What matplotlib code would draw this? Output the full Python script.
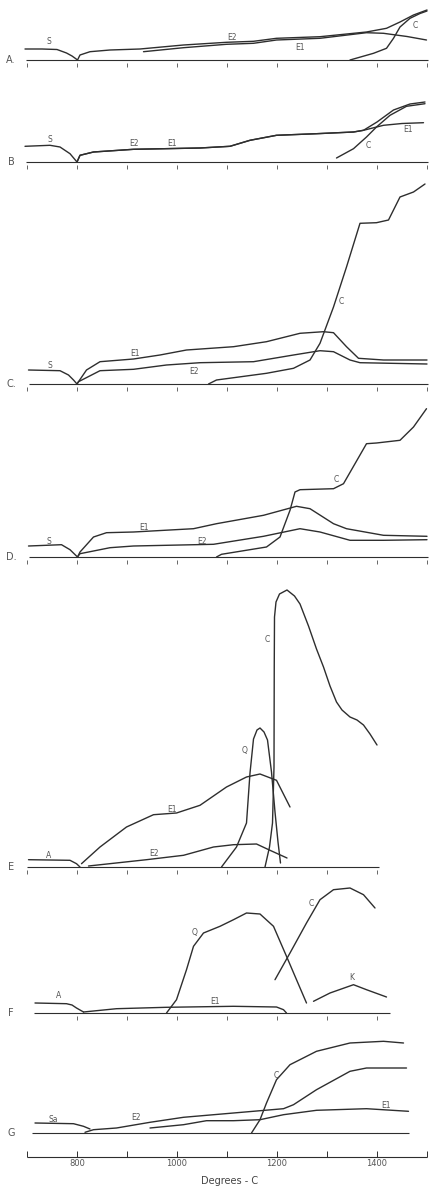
import matplotlib
matplotlib.use('Agg')
import matplotlib.pyplot as plt

# temperature scale (deg C) and panel baselines
TICKS_FULL = [700, 800, 900, 1000, 1100, 1200, 1300, 1400, 1500]
TICKS_E = [700, 800, 900, 1000, 1100, 1200, 1300, 1400]
TICKS_F = [800, 900, 1000, 1100, 1200, 1300, 1400]
SCALE_LABELS = [800, 1000, 1200, 1400]

# Panel A
A_S_T = [696, 730, 760, 779, 790, 797, 801]
A_S_Y = [11, 11, 10.5, 7, 4, 1.5, 0]
A_E2_T = [801, 806, 826, 866, 926, 1013, 1099, 1153, 1199, 1286, 1379, 1419, 1446, 1473, 1500]
A_E2_Y = [0, 5, 8.3, 10, 11, 15, 17.7, 18.7, 21.7, 23.3, 28, 31.7, 38, 45, 50]
A_E1_T = [933, 1013, 1099, 1153, 1199, 1286, 1379, 1413, 1460, 1499]
A_E1_Y = [8.3, 12.3, 15.7, 16.7, 20, 21.7, 27.3, 26.7, 23.5, 20]
A_C_T = [1346, 1393, 1419, 1433, 1446, 1466, 1486, 1500]
A_C_Y = [0, 6.7, 11.7, 21.7, 33, 41.7, 46.5, 49]

# Panel B
B_S_T = [696, 746, 766, 786, 800]
B_S_Y = [15.7, 16.7, 15, 8.3, 0]
B_E2_T = [800, 806, 833, 913, 1046, 1106, 1146, 1199, 1279, 1353, 1373, 1400, 1433, 1466, 1496]
B_E2_Y = [0, 6.7, 10, 12.7, 14, 15.7, 21.7, 26.7, 28.3, 30, 31.7, 40, 52, 58, 60]
B_E1_T = [800, 806, 833, 913, 1046, 1106, 1146, 1199, 1279, 1353, 1373, 1413, 1450, 1493]
B_E1_Y = [0, 6.7, 10, 12.7, 14, 15.7, 21.7, 26.7, 28.3, 30, 31.7, 36.7, 38.5, 39.3]
B_C_T = [1319, 1353, 1379, 1399, 1426, 1459, 1496]
B_C_Y = [4, 13.3, 25, 35, 46.7, 55.7, 58.3]

# Panel C
C_S_T = [703, 766, 783, 793, 800]
C_S_Y = [14, 13.3, 9, 4, 0]
C_E1_T = [800, 803, 819, 846, 913, 966, 1019, 1113, 1179, 1246, 1293, 1313, 1339, 1363, 1413, 1500]
C_E1_Y = [0, 2.3, 14, 22.3, 25, 29, 34, 37.3, 42.3, 50.7, 52.3, 51.3, 37.3, 25.7, 24, 24]
C_E2_T = [800, 803, 846, 913, 979, 1046, 1153, 1233, 1286, 1313, 1346, 1366, 1500]
C_E2_Y = [0, 2.3, 13.3, 14.7, 19, 21.3, 22.3, 29, 33.3, 32.3, 24, 21.3, 20]
C_C_T = [1063, 1079, 1179, 1233, 1266, 1286, 1313, 1339, 1366, 1399, 1423, 1436, 1446, 1473, 1496]
C_C_Y = [0, 4, 10.7, 15.7, 24, 40.7, 77, 117, 160.7, 161.3, 164, 177, 187, 192, 200]

# Panel D
D_S_T = [703, 769, 786, 801]
D_S_Y = [11, 12.3, 7.3, 0]
D_E1_T = [801, 806, 833, 859, 913, 1033, 1079, 1173, 1239, 1266, 1313, 1339, 1413, 1500]
D_E1_Y = [0, 5, 20, 24.3, 25, 28.3, 33.3, 41.7, 50.7, 48.3, 33.3, 28.3, 21.7, 20.7]
D_E2_T = [801, 806, 866, 913, 1073, 1173, 1246, 1286, 1346, 1413, 1500]
D_E2_Y = [0, 3.3, 9.3, 11, 12.7, 20.7, 28.3, 25, 16.7, 16.7, 17.3]
D_C_T = [1079, 1089, 1179, 1206, 1226, 1236, 1246, 1313, 1333, 1379, 1399, 1446, 1473, 1499]
D_C_Y = [0, 2.7, 10, 20, 46.7, 65, 67.3, 68.3, 73.3, 113.3, 114, 116.7, 130, 148.3]

# Panel E
E_A_T = [703, 786, 799, 806]
E_A_Y = [7.3, 6.7, 3.3, 0]
E_E1_T = [809, 846, 899, 953, 999, 1046, 1099, 1139, 1166, 1199, 1226]
E_E1_Y = [3.3, 20, 40, 52.3, 54, 61.7, 80, 90, 93, 86.7, 60]
E_E2_T = [823, 939, 1013, 1073, 1113, 1159, 1186, 1220]
E_E2_Y = [1, 7.3, 11.7, 20, 22.3, 23, 16.7, 9]
E_Q_T = [1089, 1119, 1139, 1146, 1153, 1160, 1166, 1174, 1181, 1189, 1196, 1202, 1207]
E_Q_Y = [0, 20, 44, 94, 128, 137, 139, 135, 127, 95, 55, 25, 4]
E_C_T = [1176, 1185, 1191, 1194, 1194.5, 1195, 1198, 1205, 1220, 1235, 1246, 1263, 1279,
         1293, 1306, 1319, 1330, 1346, 1360, 1373, 1386, 1400]
E_C_Y = [0, 20, 44, 100, 200, 250, 265, 273, 277, 271, 263, 241, 218,
         200, 181, 165, 157, 150, 147, 142, 133, 122]

# Panel F
F_A_T = [716, 779, 790, 799, 813]
F_A_Y = [10, 9.3, 8, 5, 1]
F_E1_T = [813, 879, 979, 1113, 1199, 1213, 1219]
F_E1_Y = [1, 4.3, 5.7, 6.7, 6, 3.3, 0]
F_Q_T = [979, 999, 1019, 1033, 1053, 1086, 1113, 1139, 1166, 1193, 1219, 1239, 1259]
F_Q_Y = [0, 13.3, 43.3, 66.7, 80, 86.7, 93.3, 100, 99, 86.7, 56.7, 33.3, 10]
F_C_T = [1196, 1226, 1259, 1286, 1313, 1346, 1373, 1396]
F_C_Y = [33.3, 60, 90, 113.3, 123.3, 125, 118.3, 105]
F_K_T = [1273, 1306, 1353, 1379, 1419]
F_K_Y = [11.7, 20, 28.3, 23.3, 16]

# Panel G
G_SA_T = [716, 793, 813, 826]
G_SA_Y = [10, 9.3, 6.7, 4]
G_E2_T = [816, 833, 879, 946, 1013, 1113, 1213, 1233, 1279, 1346, 1379, 1459]
G_E2_Y = [0.7, 3.3, 5, 10.7, 15.7, 20, 24.3, 28.3, 43.3, 61.7, 65, 65]
G_E1_T = [946, 1013, 1059, 1113, 1166, 1213, 1279, 1379, 1463]
G_E1_Y = [5, 8.3, 12.3, 12.3, 13.3, 18.3, 22.7, 24.3, 21.7]
G_C_T = [1149, 1166, 1179, 1199, 1226, 1279, 1346, 1413, 1453]
G_C_Y = [0, 13.3, 30, 53.3, 68.3, 81.7, 90, 91.7, 90]

W, H = 430, 1189
LINE = '#2e2e2e'
TXT = '#555555'

fig = plt.figure(figsize=(W / 100, H / 100), dpi=100)
fig.patch.set_facecolor('white')


# one strip per panel, 1 y-unit = 1 pixel, baseline at y = 0
def make_panel(base_row, height, base_from, base_to, ticks, letter, pad=14):
    ax = fig.add_axes([0, (H - (base_row + pad)) / H, 1, (height + pad) / H])
    ax.set_xlim(646, 1506)
    ax.set_ylim(-pad, height)
    ax.axis('off')
    ax.hlines(0, base_from, base_to, color=LINE, lw=0.8)
    if ticks:
        ax.vlines(ticks, -7, -2.5, color='#666666', lw=0.7)
    ax.text(668, 0, letter, fontsize=7, color=TXT, ha='center', va='center')
    return ax


def curve(ax, t, y):
    ax.plot(t, y, color=LINE, lw=1.0, solid_capstyle='round', solid_joinstyle='round')


def label(ax, t, y, s):
    ax.text(t, y, s, fontsize=5.5, color=TXT, ha='center', va='center')


# A
ax = make_panel(60, 65, 697, 1502, TICKS_FULL, 'A.')
curve(ax, A_S_T, A_S_Y)
curve(ax, A_E2_T, A_E2_Y)
curve(ax, A_E1_T, A_E1_Y)
curve(ax, A_C_T, A_C_Y)
label(ax, 743, 18, 'S')
label(ax, 1109, 22, 'E2')
label(ax, 1246, 13, 'E1')
label(ax, 1476, 35, 'C')

# B
ax = make_panel(162, 70, 697, 1502, TICKS_FULL, 'B')
curve(ax, B_S_T, B_S_Y)
curve(ax, B_E2_T, B_E2_Y)
curve(ax, B_E1_T, B_E1_Y)
curve(ax, B_C_T, B_C_Y)
label(ax, 746, 22, 'S')
label(ax, 913, 18, 'E2')
label(ax, 989, 18, 'E1')
label(ax, 1383, 16, 'C')
label(ax, 1463, 32, 'E1')

# C
ax = make_panel(384, 210, 703, 1502, TICKS_FULL, 'C.')
curve(ax, C_S_T, C_S_Y)
curve(ax, C_E1_T, C_E1_Y)
curve(ax, C_E2_T, C_E2_Y)
curve(ax, C_C_T, C_C_Y)
label(ax, 746, 19, 'S')
label(ax, 916, 31, 'E1')
label(ax, 1033, 12, 'E2')
label(ax, 1329, 82, 'C')

# D
ax = make_panel(557, 160, 703, 1502, TICKS_FULL, 'D.')
curve(ax, D_S_T, D_S_Y)
curve(ax, D_E1_T, D_E1_Y)
curve(ax, D_E2_T, D_E2_Y)
curve(ax, D_C_T, D_C_Y)
label(ax, 743, 15, 'S')
label(ax, 933, 30, 'E1')
label(ax, 1049, 15, 'E2')
label(ax, 1319, 77, 'C')

# E
ax = make_panel(867, 285, 699, 1403, TICKS_E, 'E')
curve(ax, E_A_T, E_A_Y)
curve(ax, E_E1_T, E_E1_Y)
curve(ax, E_E2_T, E_E2_Y)
curve(ax, E_Q_T, E_Q_Y)
curve(ax, E_C_T, E_C_Y)
label(ax, 743, 12, 'A')
label(ax, 989, 58, 'E1')
label(ax, 953, 13, 'E2')
label(ax, 1136, 117, 'Q')
label(ax, 1180, 227, 'C')

# F
ax = make_panel(1013, 130, 713, 1426, TICKS_F, 'F')
curve(ax, F_A_T, F_A_Y)
curve(ax, F_E1_T, F_E1_Y)
curve(ax, F_Q_T, F_Q_Y)
curve(ax, F_C_T, F_C_Y)
curve(ax, F_K_T, F_K_Y)
label(ax, 763, 17, 'A')
label(ax, 1076, 11, 'E1')
label(ax, 1036, 80, 'Q')
label(ax, 1269, 110, 'C')
label(ax, 1349, 35, 'K')

# G
ax = make_panel(1133, 95, 709, 1463, None, 'G')
curve(ax, G_SA_T, G_SA_Y)
curve(ax, G_E2_T, G_E2_Y)
curve(ax, G_E1_T, G_E1_Y)
curve(ax, G_C_T, G_C_Y)
label(ax, 753, 14, 'Sa')
label(ax, 919, 15, 'E2')
label(ax, 1199, 58, 'C')
label(ax, 1419, 28, 'E1')

# temperature scale at the bottom
ax = fig.add_axes([0, 0, 1, 40 / H])
ax.set_xlim(646, 1506)
ax.set_ylim(-40, 0)
ax.axis('off')
ax.hlines(-8, 699, 1499, color=LINE, lw=0.8)
ax.vlines(TICKS_FULL, -8, -2, color=LINE, lw=0.7)
for t in SCALE_LABELS:
    ax.text(t, -14, str(t), fontsize=6, color=TXT, ha='center', va='center')
ax.text(1106, -32, 'Degrees - C', fontsize=7, color='#444444', ha='center', va='center')

fig.savefig('out.png', dpi=100, facecolor='white')
